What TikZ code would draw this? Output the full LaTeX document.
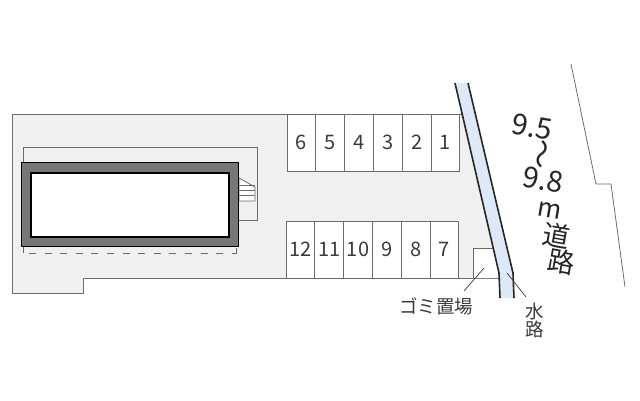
\documentclass[tikz,border=0pt]{standalone}
\usepackage{fontspec}
\setmainfont{Noto Sans CJK JP}
\usetikzlibrary{positioning}
\definecolor{sitegray}{HTML}{F0F0F0}
\definecolor{linegray}{HTML}{6E6A68}
\definecolor{wallgray}{HTML}{77777A}
\definecolor{canalblue}{HTML}{DDE8F8}
\definecolor{inkgray}{HTML}{3A3A3A}
\tikzset{
    stall/.style={draw=linegray, line width=0.9pt, fill=white, minimum width=28.8pt, minimum height=57pt, inner sep=0pt, text=inkgray, font=\fontsize{20}{20}\selectfont},
    maplabel/.style={text=inkgray, inner sep=0pt, font=\fontsize{18.5}{18.5}\selectfont},
    roadlabel/.style={text=black!85, inner sep=0pt, rotate=-10, font=\fontsize{29}{29}\selectfont},
    leader/.style={draw=inkgray, line width=0.7pt}
}

\begin{document}
\begin{tikzpicture}[x=1pt, y=-1pt]
    \useasboundingbox (0,0) rectangle (640,400);

    % Site
    \fill[sitegray] (12,114) -- (462,114) -- (500,278) -- (83,278) -- (83,293) -- (12,293) -- cycle;
    \draw[linegray, line width=1pt] (462,114) -- (12,114) -- (12,293) -- (83,293) -- (83,278) -- (500,278);

    % Thin outline round the building
    \draw[linegray, line width=0.8pt] (23,253) -- (23,147) -- (257,147) -- (257,220) -- (239,220);
    \draw[linegray, line width=0.8pt, dash pattern=on 7pt off 8.6pt] (29,253.5) -- (236,253.5);
    \draw[linegray, line width=0.8pt] (236,248) -- (236,253.5);

    % Stairs
    \draw[linegray, line width=0.8pt, fill=white] (239,178) -- (255,187) -- (255,201) -- (239,201) -- cycle;
    \draw[linegray, line width=0.8pt] (239,185) -- (255,185);
    \draw[linegray, line width=0.8pt] (239,190) -- (255,190);
    \draw[linegray, line width=0.8pt] (239,195) -- (255,195);

    % Building
    \draw[black, line width=1.6pt, fill=wallgray] (21.5,162.5) rectangle (238.5,246.5);
    \draw[black, line width=2.2pt, fill=white] (31,173) rectangle (229,237);

    % Parking, upper row
    \node[stall] (stall6) at (301.4,142.5) {6};
    \node[stall] (stall5) at (330.2,142.5) {5};
    \node[stall] (stall4) at (359,142.5) {4};
    \node[stall] (stall3) at (387.8,142.5) {3};
    \node[stall] (stall2) at (416.6,142.5) {2};
    \node[stall] (stall1) at (445.4,142.5) {1};

    % Parking, lower row
    \node[stall] (stall12) at (300.4,249.5) {12};
    \node[stall] (stall11) at (329.2,249.5) {11};
    \node[stall] (stall10) at (358,249.5) {10};
    \node[stall] (stall9) at (386.8,249.5) {9};
    \node[stall] (stall8) at (415.6,249.5) {8};
    \node[stall] (stall7) at (444.4,249.5) {7};

    % Rubbish area
    \fill[white] (473,248) -- (493,248) -- (500,278) -- (473,278) -- cycle;
    \draw[linegray, line width=0.9pt] (473,278) -- (473,248) -- (493,248);

    % Canal
    \fill[canalblue] (455,83) -- (468,83) -- (513,273) -- (514,298) -- (500,298) -- (499,273) -- cycle;
    \draw[black!85, line width=1.6pt] (455,83) -- (499,273) -- (500,298);
    \draw[black!85, line width=1.6pt] (468,83) -- (513,273) -- (514,298);

    % Far side of the road
    \draw[linegray, line width=0.8pt] (571,64) -- (596,184) -- (611,184) -- (625,287);

    % Road width
    \node[roadlabel] (widthfrom) at (532,127) {9.5};
    \node[roadlabel, rotate=-90, font=\fontsize{30}{30}\selectfont] (widthtilde) at (538,154) {～};
    \node[roadlabel] (widthto) at (543,180) {9.8};
    \node[roadlabel, font=\fontsize{26}{26}\selectfont] (widthunit) at (550,210) {m};
    \node[roadlabel, font=\fontsize{27}{27}\selectfont] (roadone) at (557,236) {道};
    \node[roadlabel, font=\fontsize{27}{27}\selectfont] (roadtwo) at (562,262) {路};

    % Labels with leaders
    \coordinate (rubbishstart) at (484,268);
    \coordinate (rubbishend) at (464,291);
    \coordinate (canalstart) at (507,273);
    \coordinate (canalend) at (526,297);
    \node[maplabel] (rubbish) at (436,306) {ゴミ置場};
    \node[maplabel] (canalone) at (535,311) {水};
    \node[maplabel] (canaltwo) at (535,329) {路};
    \draw[leader] (rubbishstart) -- (rubbishend);
    \draw[leader] (canalstart) -- (canalend);
\end{tikzpicture}
\end{document}
